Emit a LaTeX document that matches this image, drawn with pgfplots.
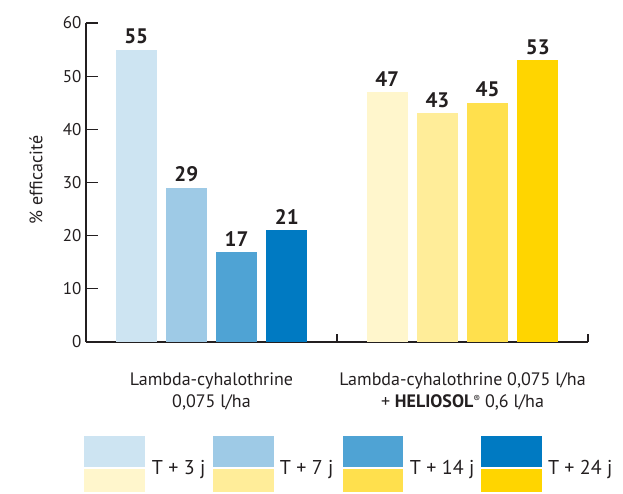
\documentclass[border=0pt]{standalone}
\usepackage{pgfplots}
\pgfplotsset{compat=1.18}
\usepackage{fontspec}
\setmainfont{PT Sans}
\definecolor{b1}{RGB}{205,228,242}
\definecolor{b2}{RGB}{158,202,230}
\definecolor{b3}{RGB}{79,163,212}
\definecolor{b4}{RGB}{0,122,194}
\definecolor{y1}{RGB}{255,246,204}
\definecolor{y2}{RGB}{255,237,153}
\definecolor{y3}{RGB}{255,224,77}
\definecolor{y4}{RGB}{255,213,0}
\definecolor{ink}{RGB}{35,31,32}
\begin{document}
\begin{tikzpicture}
\begin{axis}[
  scale only axis, width=502pt, height=319pt,
  xmin=0, xmax=10, ymin=0, ymax=60,
  axis lines=left,
  axis line style={-, line width=1.6pt, ink},
  tick align=inside,
  major tick length=12pt,
  ytick={0,10,20,30,40,50,60},
  ytick style={line width=1.3pt, ink},
  xtick={2.5,7.5},
  xticklabels={{Lambda-cyhalothrine\\0,075 l/ha},{Lambda-cyhalothrine 0,075 l/ha\\+ \textbf{HELIOSOL}\raisebox{0.5ex}{\fontsize{10}{10}\selectfont ®} 0,6 l/ha}},
  xtick style={draw=none},
  xticklabel style={anchor=north, yshift=-15pt, align=center, font=\fontsize{18}{22}\selectfont, text=ink},
  /pgf/number format/assume math mode=true,
  yticklabel style={font=\fontsize{17}{20}\selectfont, text=ink, xshift=-1pt},
  ylabel={\% efficacité},
  ylabel style={at={(rel axis cs:-0.0996,0.508)}, anchor=center, font=\fontsize{18}{20}\selectfont, text=ink},
  clip=false,
  ybar, bar width=0.82, bar shift=0pt,
  nodes near coords,
  nodes near coords style={font=\bfseries\fontsize{21}{24}\selectfont, text=ink, anchor=south, yshift=2pt},
]
\addplot[fill=b1, draw=none] coordinates {(1,55)};
\addplot[fill=b2, draw=none] coordinates {(2,29)};
\addplot[fill=b3, draw=none] coordinates {(3,17)};
\addplot[fill=b4, draw=none] coordinates {(4,21)};
\addplot[fill=y1, draw=none] coordinates {(6,47)};
\addplot[fill=y2, draw=none] coordinates {(7,43)};
\addplot[fill=y3, draw=none] coordinates {(8,45)};
\addplot[fill=y4, draw=none] coordinates {(9,53)};
% x-axis group separators
\draw[line width=1.3pt, ink] (axis cs:5,0) -- ++(0,8pt);
\draw[line width=1.3pt, ink] (axis cs:10,0) -- ++(0,8pt);
% legend
\fill[b1] (axis cs:-0.04,-17.7) rectangle (axis cs:1.175,-23.6);
\fill[y1] (axis cs:-0.04,-23.85) rectangle (axis cs:1.175,-28.2);
\fill[b2] (axis cs:2.53,-17.7) rectangle (axis cs:3.745,-23.6);
\fill[y2] (axis cs:2.53,-23.85) rectangle (axis cs:3.745,-28.2);
\fill[b3] (axis cs:5.12,-17.7) rectangle (axis cs:6.315,-23.6);
\fill[y3] (axis cs:5.12,-23.85) rectangle (axis cs:6.315,-28.2);
\fill[b4] (axis cs:7.87,-17.7) rectangle (axis cs:9.08,-23.6);
\fill[y4] (axis cs:7.87,-23.85) rectangle (axis cs:9.08,-28.2);
\node[anchor=west, font=\fontsize{20}{22}\selectfont, text=ink, inner sep=0pt] at (axis cs:1.31,-23.9) {T + 3 j};
\node[anchor=west, font=\fontsize{20}{22}\selectfont, text=ink, inner sep=0pt] at (axis cs:3.86,-23.9) {T + 7 j};
\node[anchor=west, font=\fontsize{20}{22}\selectfont, text=ink, inner sep=0pt] at (axis cs:6.45,-23.9) {T + 14 j};
\node[anchor=west, font=\fontsize{20}{22}\selectfont, text=ink, inner sep=0pt] at (axis cs:9.2,-23.9) {T + 24 j};
\coordinate (BL) at (rel axis cs:-0.1713,-0.4734);
\coordinate (TR) at (rel axis cs:1.0697,1.0721);
\end{axis}
\pgfresetboundingbox
\useasboundingbox (BL) rectangle (TR);
\end{tikzpicture}
\end{document}
